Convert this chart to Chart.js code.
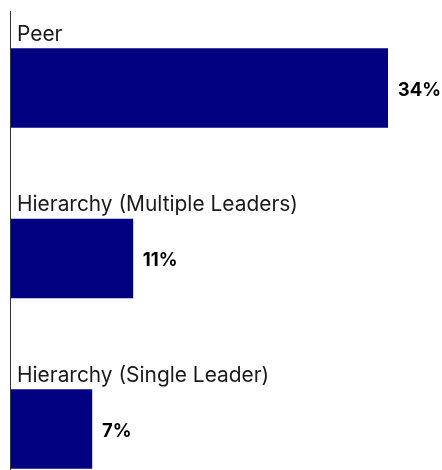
<!DOCTYPE html>
<html>
<head>
<meta charset="utf-8">
<script src="https://cdn.jsdelivr.net/npm/chart.js@4/dist/chart.umd.min.js"></script>
<style>
  html, body { margin: 0; padding: 0; background: #fff; }
  #wrap { width: 442px; height: 470px; position: relative; }
</style>
</head>
<body>
<div id="wrap"><canvas id="myChart"></canvas></div>
<script>
var categorias = ['Peer', 'Hierarchy (Multiple Leaders)', 'Hierarchy (Single Leader)'];
var valores = [34, 11, 7.3];
var rotulos = ['34%', '11%', '7%'];

// desenha a linha do eixo, os nomes acima das barras e os valores
var textosPlugin = {
    id: 'textos',
    afterDatasetsDraw: function (chart) {
        var ctx = chart.ctx;
        var meta = chart.getDatasetMeta(0);
        ctx.save();
        ctx.strokeStyle = '#333';
        ctx.lineWidth = 1;
        ctx.beginPath();
        ctx.moveTo(10.5, 11);
        ctx.lineTo(10.5, 470);
        ctx.stroke();

        for (var i = 0; i < meta.data.length; i++) {
            var bar = meta.data[i];
            var topo = bar.y - bar.height / 2;
            ctx.fillStyle = '#1a1a1a';
            ctx.font = '20.9px Inter';
            ctx.textAlign = 'left';
            ctx.textBaseline = 'alphabetic';
            ctx.fillText(categorias[i], 17, topo - 8);

            ctx.font = 'bold 18.5px Inter';
            ctx.fillStyle = '#000';
            ctx.textBaseline = 'middle';
            ctx.fillText(rotulos[i], bar.x + 10, bar.y + 2);
        }
        ctx.restore();
    }
};

var myChart = new Chart(document.getElementById('myChart'), {
    type: 'bar',
    data: {
        labels: categorias,
        datasets: [{
            data: valores,
            backgroundColor: '#000080',
            barThickness: 79,
            clip: false
        }]
    },
    options: {
        indexAxis: 'y',
        responsive: true,
        maintainAspectRatio: false,
        animation: false,
        layout: { padding: { top: 88, bottom: 41, left: 11, right: 10 } },
        plugins: { legend: { display: false }, tooltip: { enabled: false } },
        scales: {
            x: { display: false, min: 0, max: 38 },
            y: { display: false, offset: false }
        }
    },
    plugins: [textosPlugin]
});
</script>
</body>
</html>
